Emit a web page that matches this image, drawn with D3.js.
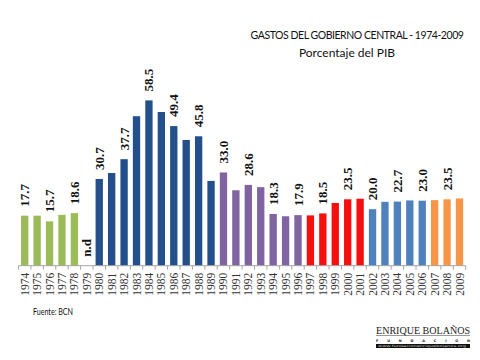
<!DOCTYPE html>
<html><head><meta charset="utf-8">
<script src="https://cdn.jsdelivr.net/npm/d3@7"></script>
<style>body{margin:0;background:#fff}svg{display:block}</style>
</head><body>
<svg id="c" width="480" height="360"></svg>
<script>
const years = ["1974","1975","1976","1977","1978","1979","1980","1981","1982","1983","1984","1985","1986","1987","1988","1989","1990","1991","1992","1993","1994","1995","1996","1997","1998","1999","2000","2001","2002","2003","2004","2005","2006","2007","2008","2009"];
const values = [17.7,17.7,15.7,18.0,18.6,null,30.7,32.8,37.7,52.9,58.5,54.4,49.4,44.5,45.8,30.0,33.0,26.7,28.6,27.8,18.3,17.5,17.9,17.8,18.5,22.2,23.5,23.7,20.0,22.6,22.7,23.1,23.0,23.2,23.5,23.8];
const groups = ["g","g","g","g","g","g","db","db","db","db","db","db","db","db","db","db","p","p","p","p","p","p","p","r","r","r","r","r","b","b","b","b","b","o","o","o"];
const labelYears = ["1974","1976","1978","1980","1982","1984","1986","1988","1990","1992","1994","1996","1998","2000","2002","2004","2006","2008"];
const labelTexts = ["17.7","15.7","18.6","30.7","37.7","58.5","49.4","45.8","33.0","28.6","18.3","17.9","18.5","23.5","20.0","22.7","23.0","23.5"];
const groupKeys = ["g","db","p","r","b","o"];
const groupColors = ["#9BBB59","#234F8A","#8064A2","#F50F0F","#4F81BD","#F79646"];

const svg = d3.select("#c");
const x = d3.scaleBand().domain(years).range([18.5, 465.7]).paddingInner(0.41).paddingOuter(0.205);
const y = d3.scaleLinear().domain([0, 58.5]).range([265.7, 100.4]);
const color = d3.scaleOrdinal().domain(groupKeys).range(groupColors);

const data = years.map((yr,i)=>({yr, v: values[i], g: groups[i]}));

svg.append("g").selectAll("rect").data(data.filter(d=>d.v!=null)).join("rect")
  .attr("x", d=>x(d.yr)).attr("width", x.bandwidth())
  .attr("y", d=>y(d.v)).attr("height", d=>y(0)-y(d.v))
  .attr("fill", d=>color(d.g));

// axis
const ax = svg.append("g");
ax.append("line").attr("x1",18.5).attr("x2",465.7).attr("y1",y(0)).attr("y2",y(0)).attr("stroke","#a6a6a6").attr("stroke-width",1);
const step = x.step();
const ticks = d3.range(years.length+1).map(i=>18.5 + i*step);
ax.selectAll("line.t").data(ticks).join("line").attr("class","t")
  .attr("x1",d=>d).attr("x2",d=>d).attr("y1",y(0)).attr("y2",y(0)+4).attr("stroke","#a6a6a6");
ax.selectAll("text").data(years).join("text")
  .attr("transform", d=>`translate(${x(d)+x.bandwidth()/2},${y(0)+7}) rotate(-90)`)
  .attr("text-anchor","end").attr("dy","0.35em")
  .attr("font-family","'Liberation Serif','Times New Roman',serif").attr("font-size",11.5)
  .attr("fill","#333").text(d=>d);

// value labels
const lab = svg.append("g");
labelYears.forEach((yr,i)=>{
  const v = values[years.indexOf(yr)];
  lab.append("text")
    .attr("transform", `translate(${x(yr)+x.bandwidth()/2},${y(v)-9}) rotate(-90)`)
    .attr("text-anchor","start").attr("dy","0.35em")
    .attr("font-family","'Liberation Serif','Times New Roman',serif").attr("font-weight","bold").attr("font-size",13)
    .attr("fill","#111").text(labelTexts[i]);
});
lab.append("text")
  .attr("transform", `translate(${x("1979")+x.bandwidth()/2},${y(0)-9}) rotate(-90)`)
  .attr("text-anchor","start").attr("dy","0.35em")
  .attr("font-family","'Liberation Serif','Times New Roman',serif").attr("font-weight","bold").attr("font-size",13)
  .attr("fill","#111").text("n.d");

// titles
svg.append("text").attr("x",357).attr("y",39).attr("text-anchor","middle")
  .attr("font-family","Lato, 'Open Sans', sans-serif").attr("font-size",10.5).attr("fill","#111")
  .style("letter-spacing","-0.45px")
  .text("GASTOS DEL GOBIERNO CENTRAL - 1974-2009");
svg.append("text").attr("x",347).attr("y",57).attr("text-anchor","middle")
  .attr("font-family","Lato, 'Open Sans', sans-serif").attr("font-size",12).attr("fill","#111")
  .text("Porcentaje del PIB");
svg.append("text").attr("x",33).attr("y",315)
  .attr("font-family","Lato, 'Open Sans', sans-serif").attr("font-size",9.5).attr("fill","#111")
  .attr("textLength",40).attr("lengthAdjust","spacingAndGlyphs")
  .text("Fuente: BCN");

// logo
const logo = svg.append("g");
logo.append("text").attr("x",376).attr("y",334)
  .attr("font-family","'Liberation Serif',serif").attr("font-size",10).attr("fill","#222")
  .attr("textLength",94).attr("lengthAdjust","spacingAndGlyphs").text("ENRIQUE BOLAÑOS");
logo.append("line").attr("x1",376).attr("x2",470).attr("y1",335.5).attr("y2",335.5).attr("stroke","#555").attr("stroke-width",0.6);
logo.append("text").attr("x",376).attr("y",341.5)
  .attr("font-family","'DejaVu Sans',sans-serif").attr("font-weight","bold").attr("font-size",3.5).attr("fill","#222")
  .attr("textLength",94).attr("lengthAdjust","spacing").text("FUNDACIÓN");
logo.append("rect").attr("x",376).attr("y",344).attr("width",94).attr("height",4).attr("fill","#111");
logo.append("text").attr("x",378).attr("y",347.3)
  .attr("font-family","'DejaVu Sans',sans-serif").attr("font-size",3).attr("fill","#ccc")
  .attr("textLength",88).attr("lengthAdjust","spacingAndGlyphs").text("www.fundacionenriquebolanos.org");
</script>
</body></html>
